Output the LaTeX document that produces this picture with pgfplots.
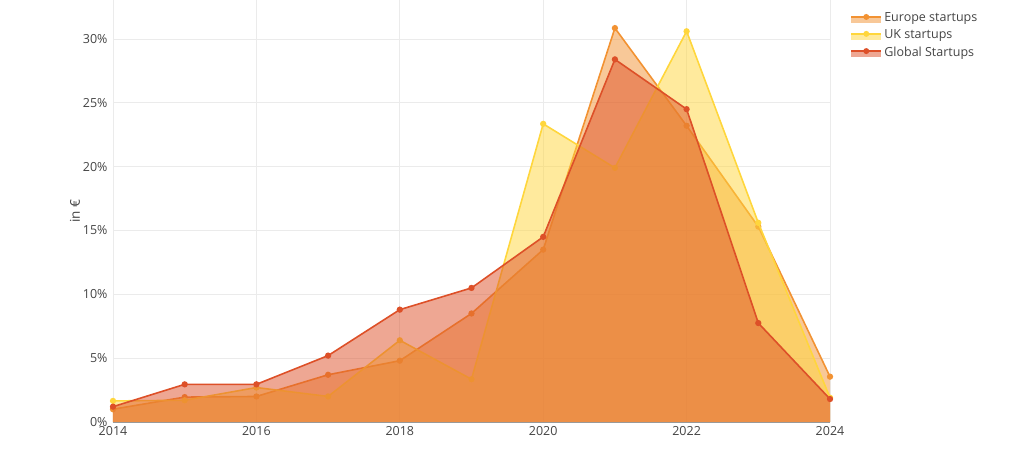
\documentclass[border=0pt]{standalone}
\usepackage{pgfplots}
\pgfplotsset{compat=1.18}
\usepackage{fontspec}
\setmainfont{Open Sans}
\definecolor{eu}{RGB}{242,146,50}
\definecolor{uk}{RGB}{255,214,60}
\definecolor{gl}{RGB}{221,80,40}
\definecolor{txt}{RGB}{68,68,68}
\definecolor{grd}{RGB}{235,235,235}
\pgfplotstableread{
year eu uk gl
2014 1.0 1.65 1.2
2015 1.95 1.7 2.95
2016 2.0 2.7 2.95
2017 3.7 2.0 5.2
2018 4.8 6.4 8.8
2019 8.5 3.35 10.5
2020 13.5 23.35 14.5
2021 30.85 19.9 28.4
2022 23.2 30.6 24.5
2023 15.3 15.6 7.75
2024 3.55 1.9 1.8
}\data
\begin{document}
\begin{tikzpicture}[x=1pt,y=1pt]
\useasboundingbox (-113,-37) rectangle (911,422);
\begin{axis}[
  at={(0,0)}, anchor=south west,
  scale only axis, width=717pt, height=422pt,
  xmin=2014, xmax=2024, ymin=0, ymax=33.05,
  xtick={2014,2016,...,2024},
  ytick={0,5,...,30},
  xticklabel style={/pgf/number format/1000 sep={}},
  yticklabel={\pgfmathprintnumber{\tick}\%},
  /pgf/number format/assume math mode=true,
  axis line style={draw=none},
  major tick length=0pt, minor tick length=0pt,
  grid=major,
  major grid style={grd, line width=0.8pt},
  tick label style={font=\fontsize{12.5}{14}\selectfont, text=txt},
  ylabel={in €},
  ylabel style={font=\fontsize{13.5}{15}\selectfont, text=txt, at={(axis description cs:-0.041,0.5)}, anchor=south},
  xticklabel style={yshift=-1pt},
  yticklabel style={xshift=-2pt},
  legend style={at={(1.028,0.975)}, anchor=north west, draw=none, fill=none,
    font=\fontsize{12.5}{14}\selectfont, text=txt, row sep=2.5pt, inner sep=0pt},
  legend cell align=left,
  legend image code/.code={
    \fill[#1, draw=none, fill opacity=0.5] (0pt,-5pt) rectangle (30pt,1pt);
    \draw[#1, fill=none, line width=2pt] (0pt,1pt) -- (30pt,1pt);
    \fill[#1, draw=none] (15pt,1pt) circle (3pt);
  },
  clip marker paths=true,
  clip=false,
]
\addplot[draw=none, fill=eu, fill opacity=0.5, forget plot] table[x=year,y=eu]{\data} \closedcycle;
\addplot[eu, line width=1.6pt, mark=*, mark size=2.3pt, mark options={fill=eu, draw=eu}] table[x=year,y=eu]{\data};
\addlegendentry{Europe startups}
\addplot[draw=none, fill=uk, fill opacity=0.5, forget plot] table[x=year,y=uk]{\data} \closedcycle;
\addplot[uk, line width=1.6pt, mark=*, mark size=2.3pt, mark options={fill=uk, draw=uk}] table[x=year,y=uk]{\data};
\addlegendentry{UK startups}
\addplot[draw=none, fill=gl, fill opacity=0.5, forget plot] table[x=year,y=gl]{\data} \closedcycle;
\addplot[gl, line width=1.6pt, mark=*, mark size=2.3pt, mark options={fill=gl, draw=gl}] table[x=year,y=gl]{\data};
\addlegendentry{Global Startups}
\draw[gray!80, line width=1pt] (axis cs:2014,0) -- (axis cs:2024,0);
\end{axis}
\end{tikzpicture}
\end{document}
